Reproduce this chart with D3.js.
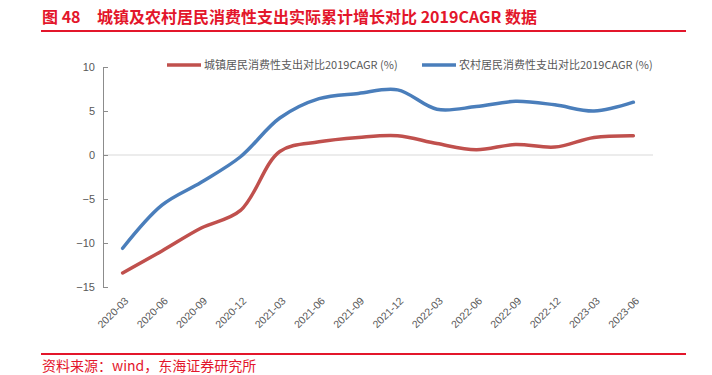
<!DOCTYPE html>
<html>
<head>
<meta charset="utf-8">
<script src="https://cdn.jsdelivr.net/npm/d3@7/dist/d3.min.js"></script>
<style>
  body { margin: 0; background: #fff; }
  svg { display: block; font-family: "Noto Sans CJK SC", "Liberation Sans", sans-serif; }
</style>
</head>
<body>
<svg id="chart"></svg>
<script>
// quarters on the x axis
const quarters = ["2020-03", "2020-06", "2020-09", "2020-12", "2021-03", "2021-06", "2021-09",
  "2021-12", "2022-03", "2022-06", "2022-09", "2022-12", "2023-03", "2023-06"];

// urban consumption spending vs 2019 CAGR (%)
const urban = [-13.4, -10.9, -8.3, -6.3, 0.4, 1.5, 2.0, 2.2, 1.3, 0.6, 1.2, 0.9, 2.0, 2.2];
// rural consumption spending vs 2019 CAGR (%)
const rural = [-10.6, -5.7, -3.1, -0.2, 4.2, 6.4, 7.0, 7.4, 5.2, 5.5, 6.1, 5.7, 5.0, 6.0];

const yTicks = [10, 5, 0, -5, -10, -15];
const seriesNames = ["城镇居民消费性支出对比2019CAGR (%)", "农村居民消费性支出对比2019CAGR (%)"];

const W = 712, H = 375;
const margin = {top: 67, right: 59, bottom: 88, left: 103};

const svg = d3.select("#chart").attr("width", W).attr("height", H);

// title + rules
svg.append("text")
  .attr("x", 42).attr("y", 23)
  .attr("fill", "#e3162b")
  .attr("font-size", "16px").attr("font-weight", "bold")
  .text("图 48");
svg.append("text")
  .attr("x", 97).attr("y", 23)
  .attr("fill", "#e3162b")
  .attr("font-size", "16px").attr("font-weight", "bold")
  .text("城镇及农村居民消费性支出实际累计增长对比 2019CAGR 数据");

svg.append("line")
  .attr("x1", 41).attr("x2", 686).attr("y1", 31).attr("y2", 31)
  .attr("stroke", "#e3162b").attr("stroke-width", 2);
svg.append("line")
  .attr("x1", 41).attr("x2", 686).attr("y1", 354).attr("y2", 354)
  .attr("stroke", "#e3162b").attr("stroke-width", 2);

svg.append("text")
  .attr("x", 42).attr("y", 371)
  .attr("fill", "#e3162b")
  .attr("font-size", "14px")
  .text("资料来源：wind，东海证券研究所");

// scales
const x = d3.scaleBand()
  .domain(quarters)
  .range([margin.left, W - margin.right]);

const y = d3.scaleLinear()
  .domain([-15, 10])
  .range([H - margin.bottom, margin.top]);

const cx = d => x(d) + x.bandwidth() / 2;

// zero line (category axis)
svg.append("line")
  .attr("x1", margin.left).attr("x2", W - margin.right)
  .attr("y1", y(0)).attr("y2", y(0))
  .attr("stroke", "#d9d9d9").attr("stroke-width", 1);

// y axis
const yAxisG = svg.append("g")
  .attr("transform", `translate(${margin.left},0)`)
  .call(d3.axisLeft(y).tickValues(yTicks).tickSize(-5).tickSizeOuter(0).tickPadding(8)
    .tickFormat(d => d < 0 ? "\u2212" + Math.abs(d) : d));
yAxisG.select(".domain").attr("stroke", "#8c8c8c");
yAxisG.selectAll(".tick line").attr("stroke", "#8c8c8c");
yAxisG.selectAll("text")
  .attr("fill", "#595959")
  .attr("font-size", "11px")
  .attr("font-family", "Liberation Sans, sans-serif");

// x labels rotated
const xAxisG = svg.append("g")
  .attr("transform", `translate(0,${y(-15) + 12})`);
xAxisG.selectAll("text")
  .data(quarters)
  .join("text")
  .attr("transform", d => `translate(${cx(d) + 4},0) rotate(-45)`)
  .attr("text-anchor", "end")
  .attr("dy", "0.35em")
  .attr("fill", "#595959")
  .attr("font-size", "10.5px")
  .attr("font-family", "Liberation Sans, sans-serif")
  .text(d => d);

// lines
const line = d3.line()
  .x((d, i) => cx(quarters[i]))
  .y(d => y(d))
  .curve(d3.curveCatmullRom.alpha(0.5));

const colors = ["#c0504d", "#4a7ebb"];

[urban, rural].forEach((vals, i) => {
  svg.append("path")
    .datum(vals)
    .attr("fill", "none")
    .attr("stroke", colors[i])
    .attr("stroke-width", 3.5)
    .attr("stroke-linecap", "round")
    .attr("d", line);
});

// legend
const legendX = [167, 422];
seriesNames.forEach((name, i) => {
  const g = svg.append("g").attr("transform", `translate(${legendX[i]},65)`);
  g.append("line")
    .attr("x1", 0).attr("x2", 34).attr("y1", 0).attr("y2", 0)
    .attr("stroke", colors[i]).attr("stroke-width", 3.5);
  g.append("text")
    .attr("x", 37).attr("y", 0).attr("dy", "0.35em")
    .attr("fill", "#595959")
    .attr("font-size", "11px")
    .text(name);
});
</script>
</body>
</html>
